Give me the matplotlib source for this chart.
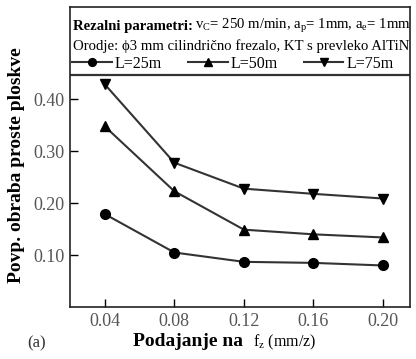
import matplotlib.pyplot as plt

plt.rcParams['font.family'] = ['Liberation Serif', 'DejaVu Serif']
plt.rcParams['mathtext.fontset'] = 'custom'
plt.rcParams['mathtext.rm'] = 'Liberation Serif'
plt.rcParams['mathtext.it'] = 'Liberation Serif:italic'
plt.rcParams['mathtext.bf'] = 'Liberation Serif:bold'

# data
feed = [0.04, 0.08, 0.12, 0.16, 0.20]
wear_25 = [0.179, 0.105, 0.087, 0.085, 0.080]
wear_50 = [0.348, 0.223, 0.149, 0.140, 0.134]
wear_75 = [0.429, 0.278, 0.228, 0.218, 0.209]
labels = ["L=25m", "L=50m", "L=75m"]
y_ticks = [0.10, 0.20, 0.30, 0.40]

fig = plt.figure(figsize=(4.16, 3.59), dpi=100)
ax = fig.add_axes([70 / 416, 1 - 307 / 359, 340 / 416, 300 / 359])

line_col = "#333333"
ax.plot(feed, wear_25, "-o", color=line_col, mfc="black", mec="black", ms=7, lw=1.5, label=labels[0])
ax.plot(feed, wear_50, "-^", color=line_col, mfc="black", mec="black", ms=7, lw=1.5, label=labels[1])
ax.plot(feed, wear_75, "-v", color=line_col, mfc="black", mec="black", ms=7, lw=1.5, label=labels[2])

ax.set_xlim(0.02, 0.2155)
ax.set_ylim(0, 0.578)
ax.set_xticks(feed)
ax.set_xticklabels(["%.2f" % f for f in feed])
ax.set_yticks(y_ticks)
ax.set_yticklabels(["%.2f" % v for v in y_ticks])
ax.tick_params(direction="in", length=6, width=1, labelsize=13, labelcolor="#555555", pad=4)
for s in ax.spines.values():
    s.set_linewidth(1.2)
    s.set_color("#222222")

# header box inside axes
ax.axhline(0.447, color="#333333", lw=1.6)
t1 = ax.text(0.008, 0.935, "Rezalni parametri:", fontweight="bold",
             transform=ax.transAxes, fontsize=10.6, va="center", ha="left")
fig.canvas.draw()
bb = t1.get_window_extent().transformed(ax.transAxes.inverted())
ax.text(bb.x1 + 0.008, 0.935, r"v$_\mathrm{C}$= 250 m/min, a$_\mathrm{p}$= 1mm, a$_\mathrm{e}$= 1mm",
        transform=ax.transAxes, fontsize=10.6, va="center", ha="left")
ax.text(0.008, 0.87, "Orodje: ϕ3 mm cilindrično frezalo, KT s prevleko AlTiN",
        transform=ax.transAxes, fontsize=10.6, va="center", ha="left")
ax.legend(loc="center left", bbox_to_anchor=(0.005, 0.81), ncol=3, frameon=False,
          fontsize=11.5, handlelength=2.5, handletextpad=0.2, columnspacing=1.6,
          markerscale=0.8, borderaxespad=0, borderpad=0)

fig.text(17 / 416, 1 - 165 / 359, "Povp. obraba proste ploskve", rotation=90,
         fontsize=14, fontweight="bold", ha="center", va="center")
fig.text(133 / 416, 1 - 342 / 359, "Podajanje na", fontsize=14, fontweight="bold", ha="left", va="center")
fig.text(253 / 416, 1 - 342 / 359, r"f$_\mathrm{z}$ (mm/z)", fontsize=11.5, ha="left", va="center")
fig.text(37 / 416, 1 - 343 / 359, "(a)", fontsize=12, ha="center", va="center", color="#333333")

fig.savefig("out.png", dpi=100)
